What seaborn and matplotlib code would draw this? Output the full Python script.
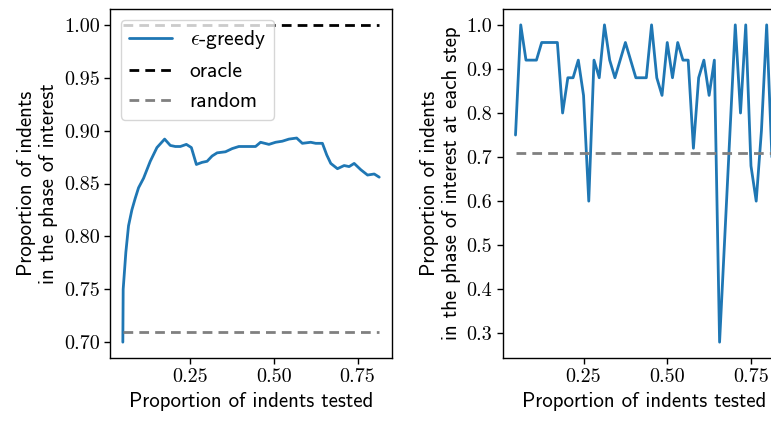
import numpy as np
import matplotlib
matplotlib.use("Agg")
import matplotlib.pyplot as plt
import seaborn as sns

# Cumulative proportion of indents in the phase of interest (left panel)
cum_x = [0.048, 0.049, 0.057, 0.065, 0.075, 0.085, 0.095, 0.110, 0.130, 0.150,
         0.173, 0.190, 0.205, 0.220, 0.238, 0.253, 0.268, 0.285, 0.300, 0.315,
         0.330, 0.355, 0.375, 0.395, 0.420, 0.430, 0.445, 0.460, 0.485, 0.505,
         0.525, 0.545, 0.568, 0.585, 0.610, 0.625, 0.645, 0.658, 0.670, 0.690,
         0.710, 0.725, 0.740, 0.760, 0.780, 0.800, 0.815]
cum_y = [0.700, 0.750, 0.785, 0.810, 0.825, 0.836, 0.846, 0.855, 0.871, 0.884,
         0.892, 0.886, 0.885, 0.885, 0.887, 0.884, 0.868, 0.870, 0.871, 0.876,
         0.879, 0.880, 0.883, 0.885, 0.885, 0.885, 0.885, 0.889, 0.887, 0.889,
         0.890, 0.892, 0.893, 0.888, 0.889, 0.888, 0.888, 0.877, 0.869, 0.864,
         0.867, 0.866, 0.869, 0.863, 0.858, 0.859, 0.856]

# Per-step proportion (right panel): step index out of the total indent count
n_indents = 64
step_idx = list(range(3, 53))
step_y = [0.75, 1.00, 0.92, 0.92, 0.92, 0.96, 0.96, 0.96, 0.96, 0.80,
          0.88, 0.88, 0.92, 0.84, 0.60, 0.92, 0.88, 1.00, 0.92, 0.88,
          0.92, 0.96, 0.92, 0.88, 0.88, 0.88, 1.00, 0.88, 0.84, 0.96,
          0.88, 0.96, 0.92, 0.92, 0.72, 0.88, 0.92, 0.84, 0.92, 0.28,
          0.52, 0.76, 1.00, 0.80, 1.00, 0.68, 0.60, 0.76, 1.00, 0.70]

oracle_level = 1.0
random_level = 0.71

x_ticks = [0.25, 0.50, 0.75]
left_y_ticks = [0.70, 0.75, 0.80, 0.85, 0.90, 0.95, 1.00]
right_y_ticks = [0.3, 0.4, 0.5, 0.6, 0.7, 0.8, 0.9, 1.0]

sns.set_theme(style="ticks")
plt.rcParams.update({
    "font.family": ["cmss10", "DejaVu Sans"],
    "mathtext.fontset": "cm",
    "axes.formatter.use_mathtext": True,
    "text.color": "black",
    "axes.labelcolor": "black",
    "axes.edgecolor": "black",
    "xtick.color": "black",
    "ytick.color": "black",
    "axes.linewidth": 1.0,
    "xtick.major.width": 1.0,
    "ytick.major.width": 1.0,
    "xtick.major.size": 4,
    "ytick.major.size": 4,
    "lines.dashed_pattern": [3.5, 2.2],
    "legend.framealpha": 0.8,
    "legend.edgecolor": "0.8",
})

blue = "#1f77b4"
label_fs = 15
legend_fs = 15.5
tick_fs = 14.5

fig = plt.figure(figsize=(7.71, 4.21), dpi=100)
ax1 = fig.add_axes([0.1427, 0.1496, 0.3658, 0.829])
ax2 = fig.add_axes([0.652, 0.1496, 0.3658, 0.829])

cum_x_arr = np.array(cum_x)
step_x = np.array(step_idx) / n_indents

sns.lineplot(x=cum_x_arr, y=cum_y, ax=ax1, color=blue, lw=2.0,
             label=r"$\epsilon$-greedy")
sns.lineplot(x=cum_x_arr, y=np.full(len(cum_x), oracle_level), ax=ax1,
             color="black", lw=2.0, ls="--", label="oracle")
sns.lineplot(x=cum_x_arr, y=np.full(len(cum_x), random_level), ax=ax1,
             color="gray", lw=2.0, ls="--", label="random")

sns.lineplot(x=step_x, y=step_y, ax=ax2, color=blue, lw=2.0)
sns.lineplot(x=step_x, y=np.full(len(step_x), random_level), ax=ax2,
             color="gray", lw=2.0, ls="--")

ax1.legend(loc="upper left", fontsize=legend_fs, fancybox=True,
           handlelength=2.0, borderpad=0.4, labelspacing=0.5)

ax1.set_yticks(left_y_ticks)
ax1.set_yticklabels([f"{v:.2f}" for v in left_y_ticks])
ax2.set_yticks(right_y_ticks)
ax2.set_yticklabels([f"{v:.1f}" for v in right_y_ticks])
for ax in (ax1, ax2):
    ax.set_xticks(x_ticks)
    ax.set_xticklabels([f"{v:.2f}" for v in x_ticks])
    for t in ax.get_xticklabels() + ax.get_yticklabels():
        t.set_fontfamily("cmr10")
        t.set_fontsize(tick_fs)
    ax.set_xlabel("Proportion of indents tested", fontsize=label_fs)
    for s in ax.spines.values():
        s.set_visible(True)

ax1.set_ylabel("Proportion of indents\nin the phase of interest", fontsize=label_fs)
ax2.set_ylabel("Proportion of indents\nin the phase of interest at each step",
               fontsize=label_fs)

fig.savefig("out.png", dpi=100)
